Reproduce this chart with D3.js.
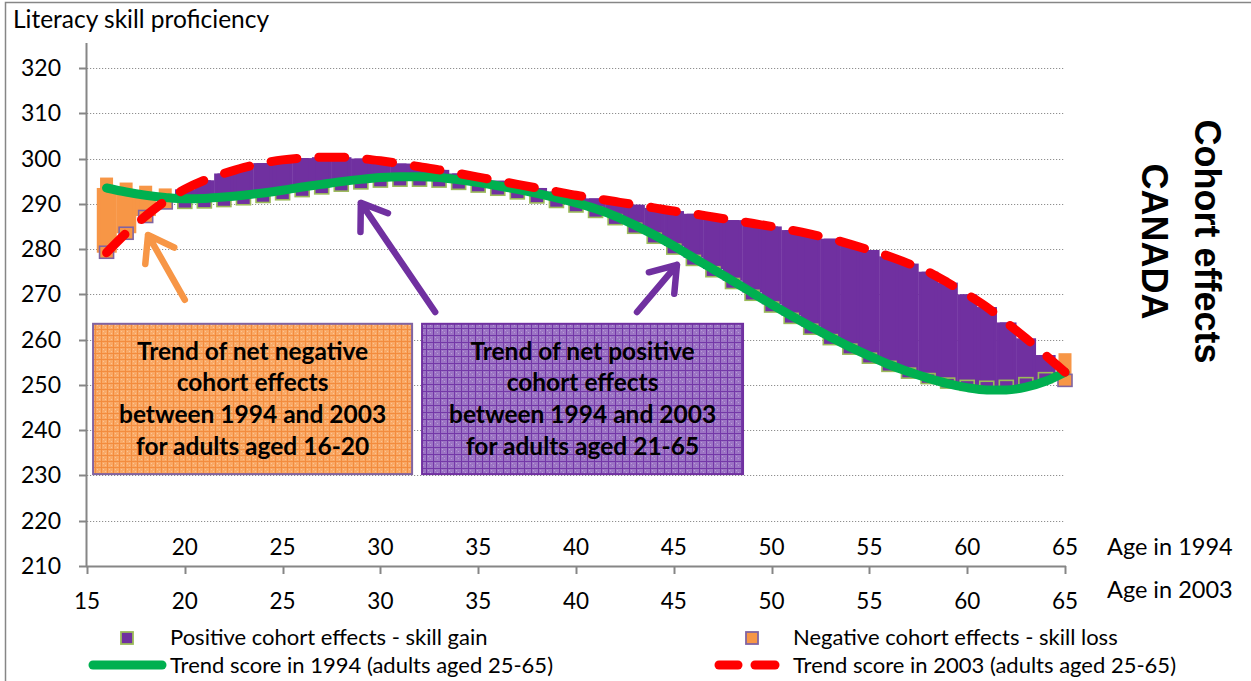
<!DOCTYPE html>
<html>
<head>
<meta charset="utf-8">
<script src="https://cdn.jsdelivr.net/npm/d3@7"></script>
<style>
  html, body { margin: 0; padding: 0; background: #ffffff; }
  svg { display: block; }
  text { font-family: Lato, "Open Sans", sans-serif; fill: #000; }
</style>
</head>
<body>
<svg id="chart" width="1251" height="681"></svg>
<script>
// ---- data -------------------------------------------------------------
const ages = [16, 17, 18, 19, 20, 21, 22, 23, 24, 25, 26, 27, 28, 29, 30, 31, 32, 33, 34, 35,
              36, 37, 38, 39, 40, 41, 42, 43, 44, 45, 46, 47, 48, 49, 50, 51, 52, 53, 54, 55,
              56, 57, 58, 59, 60, 61, 62, 63, 64, 65];

// trend scores (polynomial trend of literacy proficiency by age)
const trend1994 = [293.5, 292.6, 291.9, 291.4, 291.1, 291.2, 291.5, 291.9, 292.4, 293.0,
                   293.7, 294.3, 294.9, 295.4, 295.8, 296.0, 296.0, 295.8, 295.3, 294.7,
                   294.0, 293.2, 292.3, 291.3, 290.2, 288.9, 287.3, 285.3, 283.1, 280.7,
                   278.1, 275.6, 273.0, 270.4, 267.8, 265.3, 262.9, 260.6, 258.4, 256.4,
                   254.5, 252.9, 251.5, 250.3, 249.4, 248.9, 248.9, 249.5, 250.8, 252.8];
const trend2003 = [279.2, 283.5, 287.3, 290.6, 293.2, 295.2, 296.7, 298.0, 299.0, 299.7,
                   300.1, 300.3, 300.3, 300.0, 299.5, 298.9, 298.2, 297.5, 296.7, 295.9,
                   295.1, 294.3, 293.5, 292.7, 291.9, 291.2, 290.5, 289.8, 289.1, 288.4,
                   287.8, 287.1, 286.4, 285.7, 285.0, 284.2, 283.3, 282.3, 281.1, 279.8,
                   278.4, 276.8, 275.0, 272.6, 270.0, 267.2, 263.8, 260.3, 256.6, 252.8];

// cohort scores per age: 1994 and 2003 ends of each cohort-effect bar
const cohort1994 = [295.8, 294.7, 294.0, 293.4, 290.1, 290.2, 290.5, 290.9, 291.4, 292.0,
                    292.7, 293.3, 293.9, 294.4, 294.8, 295.0, 295.0, 294.8, 294.3, 293.7,
                    293.0, 292.2, 291.3, 290.3, 289.3, 288.1, 286.5, 284.6, 282.4, 280.0,
                    277.5, 275.0, 272.4, 269.8, 267.2, 264.7, 262.3, 260.0, 257.9, 255.9,
                    254.1, 252.6, 251.4, 250.4, 249.9, 249.7, 249.9, 250.5, 251.6, 257.0];
const cohort2003 = [279.3, 283.5, 287.2, 290.2, 293.2, 295.2, 296.7, 298.0, 299.0, 299.7,
                    300.1, 300.3, 300.3, 300.0, 299.5, 298.9, 298.2, 297.5, 296.7, 295.9,
                    295.1, 294.3, 293.5, 292.7, 291.9, 291.2, 290.5, 289.8, 289.1, 288.4,
                    287.8, 287.1, 286.4, 285.7, 285.0, 284.2, 283.3, 282.3, 281.1, 279.8,
                    278.4, 276.8, 275.0, 272.6, 270.0, 267.2, 263.8, 260.3, 256.6, 251.0];

const scoreTicks = [210, 220, 230, 240, 250, 260, 270, 280, 290, 300, 310, 320];
const ageTicks2003 = [15, 20, 25, 30, 35, 40, 45, 50, 55, 60, 65];
const ageTicks1994 = [20, 25, 30, 35, 40, 45, 50, 55, 60, 65];

const legendItems = [
  "Positive cohort effects - skill gain",
  "Negative cohort effects - skill loss",
  "Trend score in 1994 (adults aged 25-65)",
  "Trend score in 2003 (adults aged 25-65)"
];

const noteLoss = ["Trend of net negative", "cohort effects", "between 1994 and 2003", "for adults aged 16-20"];
const noteGain = ["Trend of net positive", "cohort effects", "between 1994 and 2003", "for adults aged 21-65"];

// ---- styling ----------------------------------------------------------
const C = {
  purple: "#7030A0",
  orange: "#F79646",
  green: "#00B050",
  red: "#FF0000",
  olive: "#9BBB59",
  lavender: "#8064A2",
  axis: "#868686",
  grid: "#8f8f8f"
};

const svg = d3.select("#chart");
const x = d3.scaleLinear().domain([15, 65]).range([87, 1065]);
const y = d3.scaleLinear().domain([210, 320]).range([566, 68]);
const step = x(16) - x(15);

const rows = ages.map((a, i) => ({
  age: a, t94: trend1994[i], t03: trend2003[i], c94: cohort1994[i], c03: cohort2003[i]
}));

// ---- fill patterns for the notes ----------------------------------------
const defs = svg.append("defs");
function gridPattern(id, size, base, dot, line) {
  const p = defs.append("pattern").attr("id", id)
    .attr("width", size).attr("height", size).attr("patternUnits", "userSpaceOnUse");
  p.append("rect").attr("width", size).attr("height", size).attr("fill", base);
  p.append("rect").attr("x", 1).attr("y", 1).attr("width", 1).attr("height", 1).attr("fill", dot);
  p.append("rect").attr("x", 3).attr("y", 3).attr("width", 1).attr("height", 1).attr("fill", dot);
  p.append("path").attr("d", `M0 ${size - 0.5}H${size}M${size - 0.5} 0V${size}`)
    .attr("stroke", line).attr("stroke-width", 1);
}
gridPattern("lossGrid", 6, "#F9A966", "#FCC597", "#F38C3E");
gridPattern("gainGrid", 7, "#9C74C4", "#B99CD8", "#7438A8");

// ---- outer frame --------------------------------------------------------
svg.append("rect").attr("x", 5.5).attr("y", 2.5).attr("width", 1300).attr("height", 700)
  .attr("fill", "none").attr("stroke", C.axis).attr("stroke-width", 1.5);

// ---- gridlines ----------------------------------------------------------
svg.append("g").selectAll("line").data(scoreTicks.filter(v => v > 210)).join("line")
  .attr("x1", x(15)).attr("x2", x(65))
  .attr("y1", d => Math.round(y(d)) + 0.5).attr("y2", d => Math.round(y(d)) + 0.5)
  .attr("stroke", C.grid).attr("stroke-width", 1.2).attr("stroke-dasharray", "1.2 1.8");

// ---- band between the two trend curves (one step per age) --------------
const plot = svg.append("g");
plot.selectAll("rect.band").data(rows).join("rect").attr("class", "band")
  .attr("x", d => x(d.age) - step / 2)
  .attr("width", step + 0.4)
  .attr("y", d => y(Math.max(d.t94, d.t03)))
  .attr("height", d => Math.abs(y(d.t94) - y(d.t03)))
  .attr("fill", d => d.t03 >= d.t94 ? C.purple : C.orange);

// ---- cohort-effect bars ---------------------------------------------------
const barW = 13;
plot.selectAll("rect.cohort").data(rows).join("rect").attr("class", "cohort")
  .attr("x", d => x(d.age) - barW / 2)
  .attr("width", barW)
  .attr("y", d => y(Math.max(d.c94, d.c03)))
  .attr("height", d => Math.abs(y(d.c94) - y(d.c03)))
  .attr("fill", d => d.c03 >= d.c94 ? C.purple : C.orange);

// markers at the lower end of each bar
plot.selectAll("rect.mark").data(rows).join("rect").attr("class", "mark")
  .attr("x", d => x(d.age) - 7)
  .attr("width", 14)
  .attr("y", d => y(Math.min(d.c94, d.c03)) - (d.c03 >= d.c94 ? 5 : 6))
  .attr("height", d => d.c03 >= d.c94 ? 10 : 12)
  .attr("fill", d => d.c03 >= d.c94 ? C.purple : C.orange)
  .attr("stroke", d => d.c03 >= d.c94 ? C.olive : C.lavender)
  .attr("stroke-width", 1.6);

// ---- trend lines ----------------------------------------------------------
const line94 = d3.line().x(d => x(d.age)).y(d => y(d.t94)).curve(d3.curveMonotoneX);
const line03 = d3.line().x(d => x(d.age)).y(d => y(d.t03)).curve(d3.curveMonotoneX);

plot.append("path").attr("d", line94(rows))
  .attr("fill", "none").attr("stroke", C.green).attr("stroke-width", 9)
  .attr("stroke-linecap", "round").attr("stroke-linejoin", "round");
plot.append("path").attr("d", line03(rows))
  .attr("fill", "none").attr("stroke", C.red).attr("stroke-width", 9)
  .attr("stroke-linecap", "round").attr("stroke-dasharray", "26 22");

// ---- notes ----------------------------------------------------------------
const notes = [
  { lines: noteLoss, a0: 15.31, a1: 31.62, s0: 263.5, s1: 230.3, fill: "url(#lossGrid)", stroke: C.lavender },
  { lines: noteGain, a0: 32.13, a1: 48.54, s0: 263.5, s1: 230.3, fill: "url(#gainGrid)", stroke: C.purple }
];
const noteG = svg.append("g");
notes.forEach(n => {
  const x0 = x(n.a0), x1 = x(n.a1), y0 = y(n.s0), y1 = y(n.s1);
  noteG.append("rect").attr("x", x0).attr("y", y0).attr("width", x1 - x0).attr("height", y1 - y0)
    .attr("fill", n.fill).attr("stroke", n.stroke).attr("stroke-width", 2);
  noteG.selectAll(null).data(n.lines).join("text")
    .attr("x", (x0 + x1) / 2)
    .attr("y", (d, i) => y0 + 36 + i * 31.7)
    .attr("text-anchor", "middle")
    .style("font-size", "24.5px").style("font-weight", "bold")
    .text(d => d);
});

// ---- arrows -----------------------------------------------------------------
const arrows = [
  { from: [20.0, 268.8], to: [18.12, 283.1], color: C.orange },
  { from: [32.8, 266.1], to: [29.0, 290.2], color: C.purple },
  { from: [43.12, 266.1], to: [45.16, 276.5], color: C.purple }
];
const arrowG = svg.append("g");
arrows.forEach(a => {
  const tx = x(a.to[0]), ty = y(a.to[1]), fx = x(a.from[0]), fy = y(a.from[1]);
  const len = Math.hypot(fx - tx, fy - ty);
  const ux = (fx - tx) / len, uy = (fy - ty) / len;
  const ang = 35 * Math.PI / 180, arm = 29;
  const r1 = [ux * Math.cos(ang) - uy * Math.sin(ang), ux * Math.sin(ang) + uy * Math.cos(ang)];
  const r2 = [ux * Math.cos(-ang) - uy * Math.sin(-ang), ux * Math.sin(-ang) + uy * Math.cos(-ang)];
  const p = d3.path();
  p.moveTo(fx, fy); p.lineTo(tx, ty);
  p.moveTo(tx + r1[0] * arm, ty + r1[1] * arm); p.lineTo(tx, ty); p.lineTo(tx + r2[0] * arm, ty + r2[1] * arm);
  arrowG.append("path").attr("d", p.toString())
    .attr("fill", "none").attr("stroke", a.color).attr("stroke-width", 6.5)
    .attr("stroke-linecap", "round").attr("stroke-linejoin", "round");
});

// ---- axes ---------------------------------------------------------------------
const axisG = svg.append("g");
axisG.append("line").attr("x1", 86.5).attr("x2", 86.5).attr("y1", 43).attr("y2", 566.5)
  .attr("stroke", C.axis).attr("stroke-width", 2);
axisG.selectAll("line.yt").data(scoreTicks).join("line").attr("class", "yt")
  .attr("x1", 79).attr("x2", 86.5)
  .attr("y1", d => Math.round(y(d)) + 0.5).attr("y2", d => Math.round(y(d)) + 0.5)
  .attr("stroke", C.axis).attr("stroke-width", 2);
axisG.selectAll("text.yl").data(scoreTicks).join("text").attr("class", "yl")
  .attr("x", 61).attr("y", d => y(d) + 8)
  .attr("text-anchor", "end").style("font-size", "23px")
  .text(d => d);

axisG.append("line").attr("x1", 86).attr("x2", x(65) + 1).attr("y1", 566.5).attr("y2", 566.5)
  .attr("stroke", C.axis).attr("stroke-width", 2);
axisG.selectAll("line.xt").data(ageTicks2003).join("line").attr("class", "xt")
  .attr("x1", d => Math.round(x(d)) + 0.5).attr("x2", d => Math.round(x(d)) + 0.5)
  .attr("y1", 566).attr("y2", 574)
  .attr("stroke", C.axis).attr("stroke-width", 2);
axisG.selectAll("text.x03").data(ageTicks2003).join("text").attr("class", "x03")
  .attr("x", d => x(d)).attr("y", 609)
  .attr("text-anchor", "middle").style("font-size", "22.5px")
  .text(d => d);
axisG.selectAll("text.x94").data(ageTicks1994).join("text").attr("class", "x94")
  .attr("x", d => x(d)).attr("y", 555)
  .attr("text-anchor", "middle").style("font-size", "22.5px")
  .text(d => d);

axisG.append("text").attr("x", 1107).attr("y", 555).style("font-size", "23.5px").text("Age in 1994");
axisG.append("text").attr("x", 1107).attr("y", 598).style("font-size", "23.5px").text("Age in 2003");
axisG.append("text").attr("x", 13).attr("y", 28).style("font-size", "24.5px").text("Literacy skill proficiency");

// ---- side title -----------------------------------------------------------------
svg.append("text").attr("transform", "translate(1195,241.5) rotate(90)")
  .attr("text-anchor", "middle")
  .style("font-family", "'Liberation Sans', Arial, sans-serif")
  .style("font-weight", "bold").style("font-size", "36px")
  .text("Cohort effects");
svg.append("text").attr("transform", "translate(1142,241.5) rotate(90)")
  .attr("text-anchor", "middle")
  .style("font-family", "'Liberation Sans', Arial, sans-serif")
  .style("font-weight", "bold").style("font-size", "36px")
  .text("CANADA");

// ---- legend -----------------------------------------------------------------------
const leg = svg.append("g");
leg.append("rect").attr("x", 121).attr("y", 632).attr("width", 12).attr("height", 12)
  .attr("fill", C.purple).attr("stroke", C.olive).attr("stroke-width", 1.8);
leg.append("text").attr("x", 170).attr("y", 645).style("font-size", "22px").text(legendItems[0]);
leg.append("rect").attr("x", 746).attr("y", 632).attr("width", 12).attr("height", 12)
  .attr("fill", C.orange).attr("stroke", C.lavender).attr("stroke-width", 1.8);
leg.append("text").attr("x", 793).attr("y", 645).style("font-size", "22px").text(legendItems[1]);

leg.append("line").attr("x1", 93).attr("x2", 162).attr("y1", 665).attr("y2", 665)
  .attr("stroke", C.green).attr("stroke-width", 9).attr("stroke-linecap", "round");
leg.append("text").attr("x", 170).attr("y", 673).style("font-size", "22px").text(legendItems[2]);
[[719, 738], [755, 775]].forEach(([a, b]) => {
  leg.append("line").attr("x1", a).attr("x2", b).attr("y1", 665).attr("y2", 665)
    .attr("stroke", C.red).attr("stroke-width", 9).attr("stroke-linecap", "round");
});
leg.append("text").attr("x", 793).attr("y", 673).style("font-size", "22px").text(legendItems[3]);
</script>
</body>
</html>
